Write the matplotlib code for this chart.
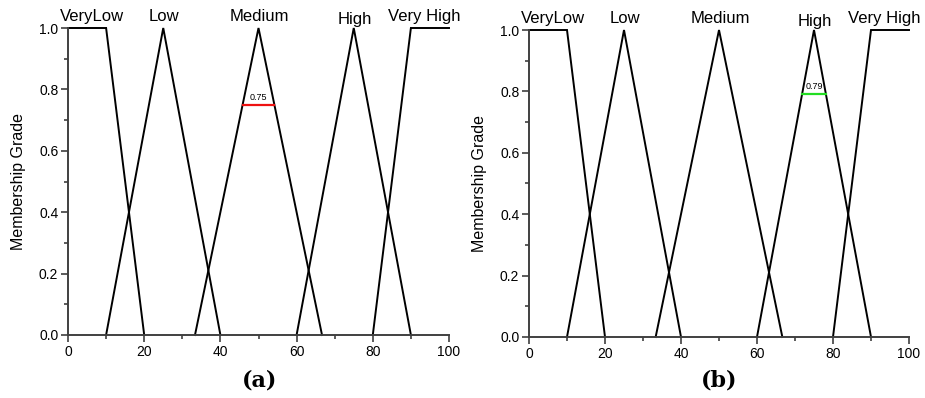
import matplotlib
matplotlib.use("Agg")
import matplotlib.pyplot as plt
from matplotlib.ticker import MultipleLocator

plt.rcParams['font.family'] = ['Liberation Sans', 'DejaVu Sans']

# Membership functions (same in both panels)
set_names = ["VeryLow", "Low", "Medium", "High", "Very High"]
set_x = [
    [0, 10, 20],
    [10, 25, 40],
    [33.33, 50, 66.67],
    [60, 75, 90],
    [80, 90, 100],
]
set_y = [
    [1, 1, 0],
    [0, 1, 0],
    [0, 1, 0],
    [0, 1, 0],
    [0, 1, 1],
]
label_x = [6.2, 25.3, 50.3, 75.2, 93.5]
label_dy = [0, 0, 0, -0.01, 0]

# Highlighted cut levels
cut_a = {"set": 2, "level": 0.75, "text": "0.75", "color": "#ee1111"}
cut_b = {"set": 3, "level": 0.79, "text": "0.79", "color": "#22dd22"}

xticks = [0, 20, 40, 60, 80, 100]
yticks = [0.0, 0.2, 0.4, 0.6, 0.8, 1.0]

fig = plt.figure(figsize=(9.25, 3.98), dpi=100)
axA = fig.add_axes([68/925, 1-335/398, (449-68)/925, (335-28)/398])
axB = fig.add_axes([529/925, 1-337/398, (909-529)/925, (337-30)/398])

spine_col = "#404040"

def cut_bounds(idx, lvl):
    xs, ys = set_x[idx], set_y[idx]
    left = xs[0] + lvl * (xs[1] - xs[0])
    right = xs[2] - lvl * (xs[2] - xs[1])
    return left, right

for ax, cut, cap, capx in [(axA, cut_a, "(a)", 260/925), (axB, cut_b, "(b)", 719/925)]:
    for xs, ys in zip(set_x, set_y):
        ax.plot(xs, ys, color="black", lw=1.4, clip_on=False, solid_joinstyle="miter")
    l, r = cut_bounds(cut["set"], cut["level"])
    ax.plot([l, r], [cut["level"], cut["level"]], color=cut["color"], lw=1.6)
    ax.text((l + r) / 2, cut["level"] + 0.01, cut["text"], ha="center", va="bottom", fontsize=6.5)
    for name, lx, dy in zip(set_names, label_x, label_dy):
        ax.text(lx, 1.013 + dy, name, ha="center", va="bottom", fontsize=12, clip_on=False)
    ax.set_xlim(0, 100)
    ax.set_ylim(0, 1.0)
    ax.set_xticks(xticks)
    ax.set_yticks(yticks)
    ax.xaxis.set_minor_locator(MultipleLocator(10))
    ax.yaxis.set_minor_locator(MultipleLocator(0.1))
    ax.set_xticklabels([str(v) for v in xticks])
    ax.set_yticklabels([f"{v:.1f}" for v in yticks])
    ax.tick_params(axis="both", which="major", direction="out", length=5, width=1.2,
                   color=spine_col, labelsize=10, pad=2)
    ax.tick_params(axis="both", which="minor", direction="out", length=3, width=1.2,
                   color=spine_col)
    for s in ["top", "right"]:
        ax.spines[s].set_visible(False)
    for s in ["left", "bottom"]:
        ax.spines[s].set_color(spine_col)
        ax.spines[s].set_linewidth(1.4)
    ax.set_ylabel("Membership Grade", fontsize=11.5, labelpad=9)
    fig.text(capx, 1 - 380/398, cap, ha="center", va="center",
             fontsize=16, fontweight="bold", family=["DejaVu Serif"])

fig.savefig("out.png", dpi=100)
